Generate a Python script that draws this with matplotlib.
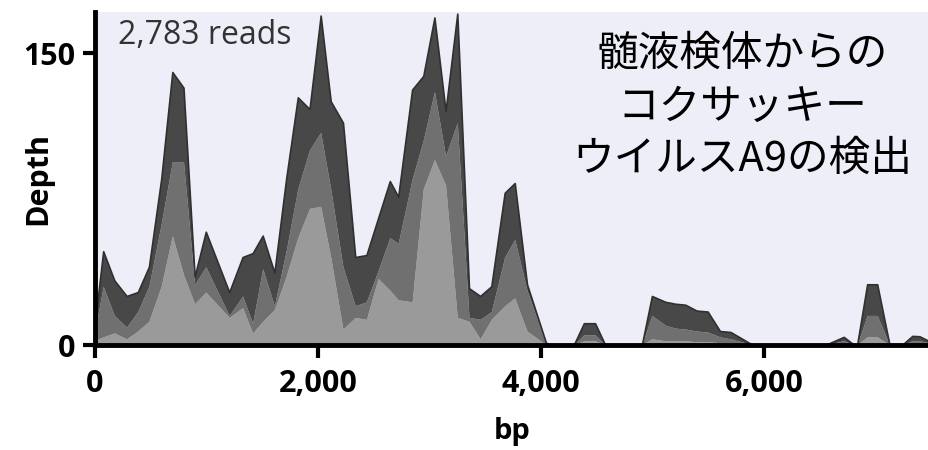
import numpy as np
import matplotlib.pyplot as plt

# read depth per position, split into three stacked layers
pos = [0, 80, 180, 290, 390, 490, 600, 700, 800, 900, 1000, 1210, 1330, 1420,
       1510, 1615, 1720, 1825, 1930, 2030, 2120, 2230, 2340, 2440, 2545, 2650,
       2725, 2850, 2950, 3050, 3150, 3255, 3360, 3460, 3560, 3680, 3770, 3880,
       4050, 4100, 4300, 4390, 4490, 4580, 4910, 5000, 5120, 5210, 5300, 5400,
       5500, 5610, 5705, 5900, 6560, 6720, 6810, 6840, 6930, 7020, 7130, 7245,
       7335, 7400, 7480]
layer_low = [2, 4, 6, 3, 7, 12, 30, 56, 36, 21, 27, 14, 19, 6,
             12, 18, 35, 55, 70, 71, 45, 8, 14, 13, 34, 28,
             23, 22, 80, 95, 82, 14, 12, 3, 13, 20, 24, 7,
             0, 0, 0, 2, 2, 0, 0, 3, 2, 2, 2, 1.5,
             1.5, 1, 1, 0, 0, 0.5, 0, 0, 4, 4, 0, 0,
             0.5, 0.5, 0.3]
layer_mid = [3, 26, 9, 6, 10, 18, 32, 38, 58, 10, 13, 1, 6, 5,
             27, 2, 13, 25, 30, 38, 35, 32, 6, 9, 4, 27,
             29, 63, 25, 35, 15, 100, 2, 10, 4, 25, 30, 21,
             0.5, 0, 0, 3, 3, 0, 0, 12, 8, 6.5, 6, 5.5,
             5, 3, 2, 0, 0, 1.5, 0, 0, 11, 11, 0, 0,
             1.5, 1.5, 0.7]
layer_high = [3, 18, 18, 16, 10, 10, 23, 46, 38, 4, 18, 12, 20, 36,
              17, 17, 37, 47, 21, 60, 45, 74, 25, 24, 27, 29,
              24, 46, 33, 38, 23, 56, 15, 12, 13, 33, 29, 3,
              0.5, 0, 0, 6, 6, 0, 0, 10, 12, 12.5, 12.5, 10.5,
              10.5, 3, 3.5, 0, 0, 2, 0, 0, 16, 16, 0, 0,
              2.5, 2.3, 1]

plt.rcParams['font.family'] = ['Open Sans', 'DejaVu Sans']

fig = plt.figure(figsize=(9.29, 4.5), dpi=100)
ax = fig.add_axes([0.102, 0.233, 0.898, 0.74])
ax.set_facecolor('#eeeef9')

ax.stackplot(pos, layer_low, layer_mid, layer_high,
             colors=['#9a9a9a', '#707070', '#484848'], linewidth=0)
total = np.array(layer_low) + np.array(layer_mid) + np.array(layer_high)
ax.plot(pos, total, color='#303030', lw=1.2)

ax.set_xlim(0, 7480)
ax.set_ylim(0, 171)
ax.set_xticks([0, 2000, 4000, 6000])
ax.set_xticklabels(['0', '2,000', '4,000', '6,000'])
ax.set_yticks([0, 150])
ax.tick_params(axis='both', length=9, width=3, labelsize=22, pad=5)
ax.tick_params(axis='x', pad=8)
for lab in ax.get_xticklabels() + ax.get_yticklabels():
    lab.set_fontweight('bold')

for side in ['top', 'right']:
    ax.spines[side].set_visible(False)
for side in ['left', 'bottom']:
    ax.spines[side].set_linewidth(3.5)

ax.set_xlabel('bp', fontsize=21, fontweight='bold', labelpad=13)
ax.set_ylabel('Depth', fontsize=22, fontweight='bold')
ax.yaxis.set_label_coords(-0.05, 0.5)

ax.text(0.028, 0.93, '2,783 reads', transform=ax.transAxes, fontsize=23,
        color='#333333', va='center', ha='left')
ax.text(0.776, 0.715, '髄液検体からの\nコクサッキー\nウイルスA9の検出',
        transform=ax.transAxes, fontsize=30, ha='center', va='center',
        linespacing=1.36, family=['Noto Sans CJK JP', 'DejaVu Sans'])

plt.savefig('out.png', dpi=100)
